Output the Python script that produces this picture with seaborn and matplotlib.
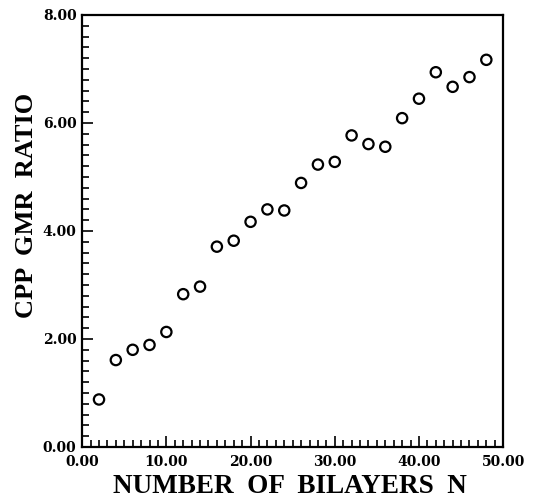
import numpy as np
import pandas as pd
import matplotlib
matplotlib.use('Agg')
import matplotlib.pyplot as plt
import seaborn as sns
from matplotlib.ticker import MultipleLocator, FormatStrFormatter

# dados
bilayers = [2, 4, 6, 8, 10, 12, 14, 16, 18, 20, 22, 24,
            26, 28, 30, 32, 34, 36, 38, 40, 42, 44, 46, 48]
gmr_ratio = [0.88, 1.61, 1.80, 1.89, 2.13, 2.83, 2.97, 3.71, 3.82, 4.17, 4.40, 4.38,
             4.89, 5.23, 5.28, 5.77, 5.61, 5.56, 6.09, 6.45, 6.94, 6.67, 6.85, 7.17]

data = pd.DataFrame({'N': bilayers, 'GMR': gmr_ratio})

sns.set_style('ticks')
plt.rcParams['font.family'] = ['Liberation Serif', 'DejaVu Serif']
plt.rcParams['font.weight'] = 'bold'
for k in ['text.color', 'axes.labelcolor', 'xtick.color', 'ytick.color',
          'xtick.labelcolor', 'ytick.labelcolor', 'axes.edgecolor']:
    plt.rcParams[k] = 'black'

fig = plt.figure(figsize=(5.37, 5.0), dpi=100)
ax = fig.add_axes([0.153, 0.106, 0.784, 0.864])

sns.scatterplot(data=data, x='N', y='GMR', ax=ax, marker='o', s=55,
                facecolor='none', edgecolor='black', linewidth=1.6)

ax.set_xlim(0, 50)
ax.set_ylim(0, 8)
ax.xaxis.set_major_locator(MultipleLocator(10))
ax.xaxis.set_minor_locator(MultipleLocator(1))
ax.yaxis.set_major_locator(MultipleLocator(2))
ax.yaxis.set_minor_locator(MultipleLocator(0.2))
ax.xaxis.set_major_formatter(FormatStrFormatter('%.2f'))
ax.yaxis.set_major_formatter(FormatStrFormatter('%.2f'))

ax.tick_params(which='both', direction='in', top=False, right=False,
               color='black', width=1.2)
ax.tick_params(which='major', length=8, labelsize=10, pad=4)
ax.tick_params(axis='x', which='major', pad=6)
ax.tick_params(which='minor', length=5)
for lab in ax.get_xticklabels() + ax.get_yticklabels():
    lab.set_fontweight('bold')
    lab.set_family('DejaVu Serif')

for sp in ax.spines.values():
    sp.set_visible(True)
    sp.set_linewidth(1.6)
    sp.set_color('black')

ax.set_xlabel('NUMBER  OF  BILAYERS  N', fontsize=19.5, fontweight='bold')
ax.set_ylabel('CPP  GMR  RATIO', fontsize=19, fontweight='bold')
ax.xaxis.set_label_coords(0.494, -0.062)
ax.yaxis.set_label_coords(-0.105, 0.56)

fig.savefig('out.png', dpi=100)
